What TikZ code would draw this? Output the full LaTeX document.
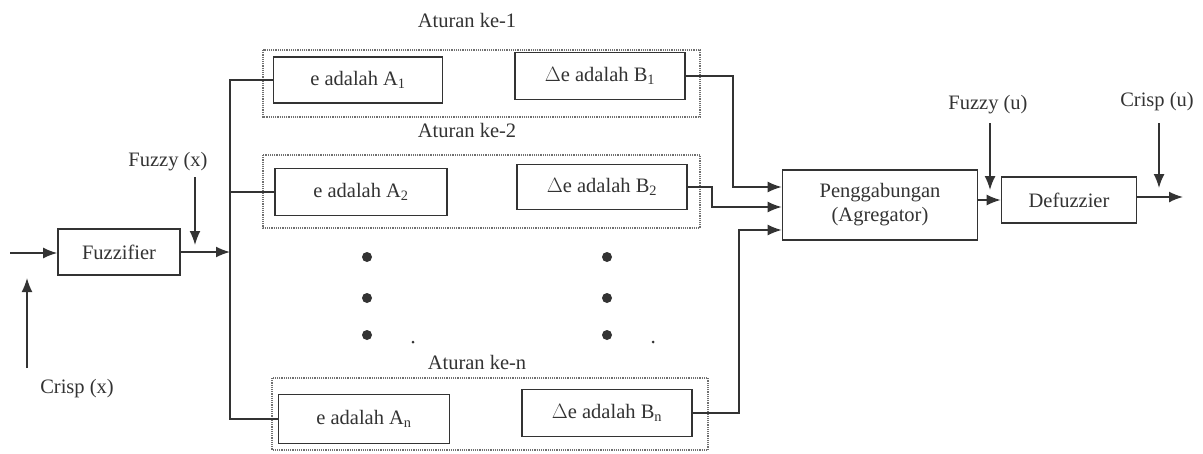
\documentclass[tikz,border=0pt]{standalone}
\usepackage{fontspec}
\setmainfont{Liberation Serif}
\usetikzlibrary{arrows.meta,calc}
\definecolor{ink}{HTML}{333333}
\begin{document}
\begin{tikzpicture}[x=1pt,y=-1pt,
  every node/.style={font=\fontsize{20.5}{24}\selectfont, text=ink},
  blk/.style={draw=ink, line width=1.6pt, inner sep=0pt},
  grp/.style={draw=ink!70, densely dotted, line width=1.2pt},
  con/.style={draw=ink, line width=1.6pt},
  arr/.style={con, -{Latex[length=14pt,width=11pt]}},
  lbl/.style={inner sep=1pt},
  bigdot/.style={circle, fill=ink, inner sep=0pt, minimum size=10pt},
  smalldot/.style={circle, fill=ink, inner sep=0pt, minimum size=3pt}]
\useasboundingbox (0,0) rectangle (1203,453);
\fill[white] (0,0) rectangle (1203,453);

% dotted rule groups
\draw[grp] (263,50) rectangle (700,117);
\draw[grp] (263,155) rectangle (700,228);
\draw[grp] (272,378) rectangle (708,450);

% blocks
\node[blk, minimum width=122pt, minimum height=46pt] (fz) at (119,252) {Fuzzifier};
\node[blk, minimum width=169pt, minimum height=46pt] (a1) at (358,80) {e adalah A\textsubscript{1}};
\node[blk, minimum width=170pt, minimum height=47pt] (b1) at (600,76) {$\Delta$e adalah B\textsubscript{1}};
\node[blk, minimum width=172pt, minimum height=47pt] (a2) at (361,192) {e adalah A\textsubscript{2}};
\node[blk, minimum width=170pt, minimum height=45pt] (b2) at (602,187) {$\Delta$e adalah B\textsubscript{2}};
\node[blk, minimum width=171pt, minimum height=49pt] (an) at (364,419) {e adalah A\textsubscript{n}};
\node[blk, minimum width=170pt, minimum height=47pt] (bn) at (607,413) {$\Delta$e adalah B\textsubscript{n}};
\node[blk, minimum width=195pt, minimum height=70pt, align=center] (pg) at (880,205) {Penggabungan\\(Agregator)};
\node[blk, minimum width=135pt, minimum height=46pt] (df) at (1069,200) {Defuzzier};

% labels
\node[lbl] (l1) at (467,20) {Aturan ke-1};
\node[lbl] (l2) at (467,130) {Aturan ke-2};
\node[lbl] (ln) at (477,362) {Aturan ke-n};
\node[lbl] (cx) at (77,389) {Crisp (x)};
\node[lbl] (fx) at (168,162) {Fuzzy (x)};
\node[lbl] (fu) at (988,105) {Fuzzy (u)};
\node[lbl] (cu) at (1157,102) {Crisp (u)};

% dots
\node[bigdot] (d1) at (367,257) {};
\node[bigdot] (d2) at (367,298) {};
\node[bigdot] (d3) at (367,335) {};
\node[bigdot] (d4) at (607,257) {};
\node[bigdot] (d5) at (607,298) {};
\node[bigdot] (d6) at (607,335) {};
\node[smalldot] (s1) at (413,342) {};
\node[smalldot] (s2) at (653,342) {};

% coordinates
\coordinate (in) at (10,253);
\coordinate (cxs) at (27,368);
\coordinate (cxe) at (27,278);
\coordinate (bus) at (230,252);
\coordinate (fxs) at (195,177);
\coordinate (fxe) at (195,245);
\coordinate (fus) at (990,123);
\coordinate (fue) at (990,190);
\coordinate (cus) at (1159,123);
\coordinate (cue) at (1159,188);
\coordinate (out) at (1183,197);

% input side
\draw[arr] (in) -- (fz.west |- in);
\draw[arr] (cxs) -- (cxe);
\draw[arr] (fz.east |- bus) -- (bus);
\draw[arr] (fxs) -- (fxe);
\draw[con] (a1.west) -- (bus |- a1.west) -- (bus |- an.west) -- (an.west);
\draw[con] (bus |- a2.west) -- (a2.west);

% rule outputs to aggregator
\draw[arr] (b1.east) -| (733,187) -- ([yshift=18pt]pg.west);
\draw[arr] (b2.east) -| (712,207) -- ([yshift=-2pt]pg.west);
\draw[arr] (bn.east) -| (739,230) -- ([yshift=-25pt]pg.west);

% output side
\draw[arr] (pg.east |- df.west) -- (df.west);
\draw[arr] (fus) -- (fue);
\draw[arr] (df.east |- out) -- (out);
\draw[arr] (cus) -- (cue);
\end{tikzpicture}
\end{document}
